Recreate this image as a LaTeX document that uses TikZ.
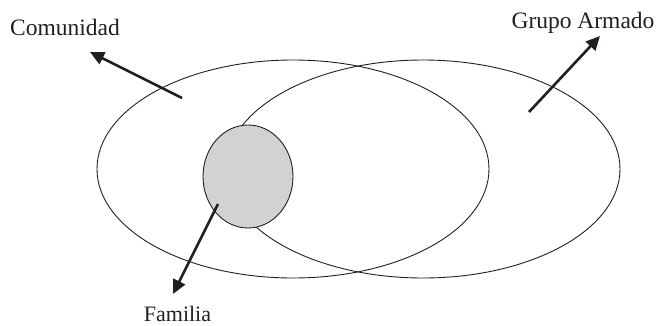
\documentclass[tikz,border=0pt]{standalone}
\usepackage{fontspec}
\setmainfont{Liberation Serif}
\usetikzlibrary{shapes.geometric,arrows.meta}
\definecolor{ink}{HTML}{231F20}
\definecolor{famfill}{HTML}{D1D2D4}
\tikzset{
  setbox/.style={draw=ink, ellipse, line width=0.9pt, inner sep=0pt},
  pointer/.style={draw=ink, line width=2.6pt, -{Triangle[length=14pt,width=13pt]}},
  lbl/.style={anchor=base, text=ink, inner sep=0pt, font=\fontsize{23.5}{27}\selectfont}
}
\begin{document}
\begin{tikzpicture}[x=1pt,y=-1pt]
\useasboundingbox (0,0) rectangle (657,325);
\node[setbox, minimum width=392pt, minimum height=218pt] (com) at (293,169) {};
\node[setbox, minimum width=394pt, minimum height=218pt] (gru) at (423,169) {};
\node[setbox, fill=famfill, minimum width=90pt, minimum height=103pt] (fam) at (248,176.5) {};
\node[lbl] (tcom) at (65,35) {Comunidad};
\node[lbl] (tgru) at (583,28) {Grupo Armado};
\node[lbl, font=\fontsize{22}{26}\selectfont] (tfam) at (177.5,321) {Familia};
\coordinate (c1) at (182,98);
\coordinate (c2) at (90,52);
\coordinate (g1) at (529,112);
\coordinate (g2) at (600,36);
\coordinate (f1) at (218,204);
\coordinate (f2) at (173,294);
\draw[pointer] (c1) -- (c2);
\draw[pointer] (g1) -- (g2);
\draw[pointer] (f1) -- (f2);
\end{tikzpicture}
\end{document}
